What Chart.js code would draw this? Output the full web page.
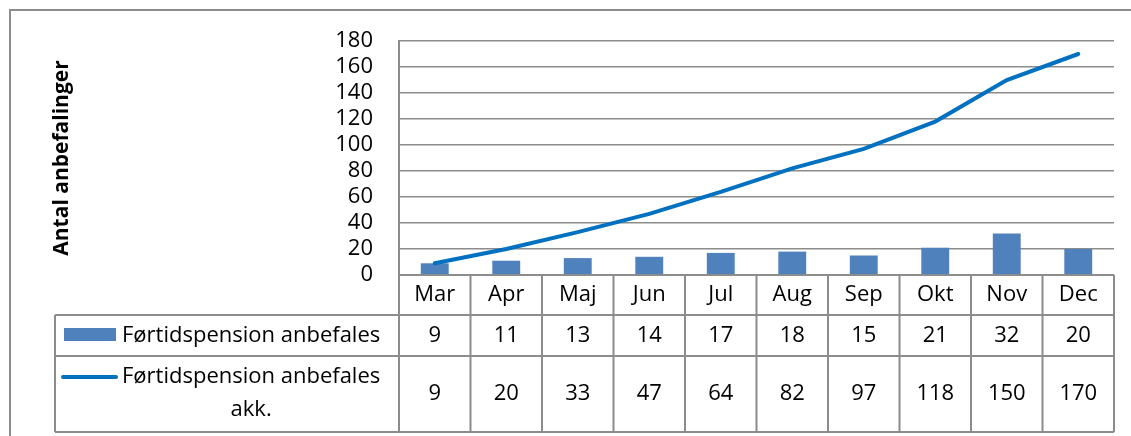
<!DOCTYPE html>
<html>
<head>
<meta charset="utf-8">
<script src="https://cdn.jsdelivr.net/npm/chart.js@4/dist/chart.umd.min.js"></script>
<style>
    body { margin: 0; background: white; }
</style>
</head>
<body>
<canvas id="anbefalinger" width="1131" height="436"></canvas>
<script>
const months = ['Mar', 'Apr', 'Maj', 'Jun', 'Jul', 'Aug', 'Sep', 'Okt', 'Nov', 'Dec'];
const monthly = [9, 11, 13, 14, 17, 18, 15, 21, 32, 20];
const cumulative = [9, 20, 33, 47, 64, 82, 97, 118, 150, 170];
const yTicks = [0, 20, 40, 60, 80, 100, 120, 140, 160, 180];

const barLabel = 'Førtidspension anbefales';
const lineLabel = 'Førtidspension anbefales akk.';

const FONT = '"Open Sans"';
const GREY = '#8c8c8c';

// draws the outer frame plus the data table under the plot
const dataTable = {
    id: 'dataTable',
    afterDraw(chart) {
        const { ctx, chartArea: { left, right, top, bottom }, scales: { x } } = chart;
        const half = (x.getPixelForValue(1) - x.getPixelForValue(0)) / 2;
        const row1 = bottom + 40, row2 = row1 + 41, row3 = 432;
        const legendLeft = 55;
        const lineSet = chart.data.datasets[0], barSet = chart.data.datasets[1];

        ctx.save();
        ctx.strokeStyle = GREY;
        ctx.lineWidth = 2;

        // outer frame
        ctx.strokeRect(10, 10, 1200, 600);

        ctx.beginPath();
        ctx.moveTo(left, bottom); ctx.lineTo(right, bottom);
        [row1, row2, row3].forEach(y => { ctx.moveTo(legendLeft, y); ctx.lineTo(right, y); });
        ctx.moveTo(legendLeft, row1); ctx.lineTo(legendLeft, row3);
        ctx.moveTo(left, top); ctx.lineTo(left, row3);
        months.forEach((m, i) => {
            const xr = x.getPixelForValue(i) + half;
            ctx.moveTo(xr, bottom); ctx.lineTo(xr, row3);
        });
        ctx.stroke();

        ctx.fillStyle = 'black';
        ctx.font = '22px ' + FONT;
        ctx.textAlign = 'center';
        ctx.textBaseline = 'middle';
        months.forEach((m, i) => {
            const cx = x.getPixelForValue(i);
            ctx.fillText(m, cx, (bottom + row1) / 2);
            ctx.fillText(String(monthly[i]), cx, (row1 + row2) / 2);
            ctx.fillText(String(cumulative[i]), cx, (row2 + row3) / 2);
        });

        // legend keys
        ctx.fillStyle = barSet.backgroundColor;
        ctx.fillRect(64, 328, 52, 13);
        ctx.strokeStyle = lineSet.borderColor;
        ctx.lineWidth = 4;
        ctx.lineCap = 'round';
        ctx.beginPath();
        ctx.moveTo(63, 377); ctx.lineTo(116, 377);
        ctx.stroke();

        ctx.fillStyle = 'black';
        ctx.textAlign = 'left';
        ctx.fillText(barLabel, 122, (row1 + row2) / 2);
        const words = lineLabel.split(' ');
        const first = words.slice(0, 2).join(' ');
        ctx.fillText(first, 122, 377);
        ctx.textAlign = 'center';
        ctx.fillText(words[2], 122 + ctx.measureText(first).width / 2, 410);
        ctx.restore();
    }
};

new Chart(document.getElementById('anbefalinger'), {
    data: {
        labels: months,
        datasets: [{
            type: 'line',
            label: lineLabel,
            data: cumulative,
            borderColor: '#0070C0',
            backgroundColor: '#0070C0',
            borderWidth: 4,
            borderCapStyle: 'round',
            pointRadius: 0,
            tension: 0,
            order: 0
        },
        {
            type: 'bar',
            label: barLabel,
            data: monthly,
            backgroundColor: '#4F81BD',
            barPercentage: 0.39,
            categoryPercentage: 1,
            order: 1
        }]
    },
    options: {
        responsive: false,
        animation: false,
        layout: {
            padding: { left: 10, top: 41, right: 17, bottom: 161 }
        },
        scales: {
            x: {
                display: false
            },
            y: {
                min: 0,
                max: 180,
                afterFit(scale) { scale.width = 389; },
                afterBuildTicks(scale) { scale.ticks = yTicks.map(v => ({ value: v })); },
                border: { color: GREY, width: 2 },
                grid: { color: GREY, lineWidth: 1.5, drawTicks: false },
                ticks: {
                    autoSkip: false,
                    padding: 26,
                    color: 'black',
                    font: { family: FONT, size: 22 }
                },
                title: {
                    display: true,
                    text: 'Antal anbefalinger',
                    color: 'black',
                    padding: { top: 39, bottom: 0 },
                    font: { family: FONT, size: 21, weight: 'bold' }
                }
            }
        },
        plugins: {
            legend: { display: false },
            tooltip: { enabled: false }
        }
    },
    plugins: [dataTable]
});
</script>
</body>
</html>
